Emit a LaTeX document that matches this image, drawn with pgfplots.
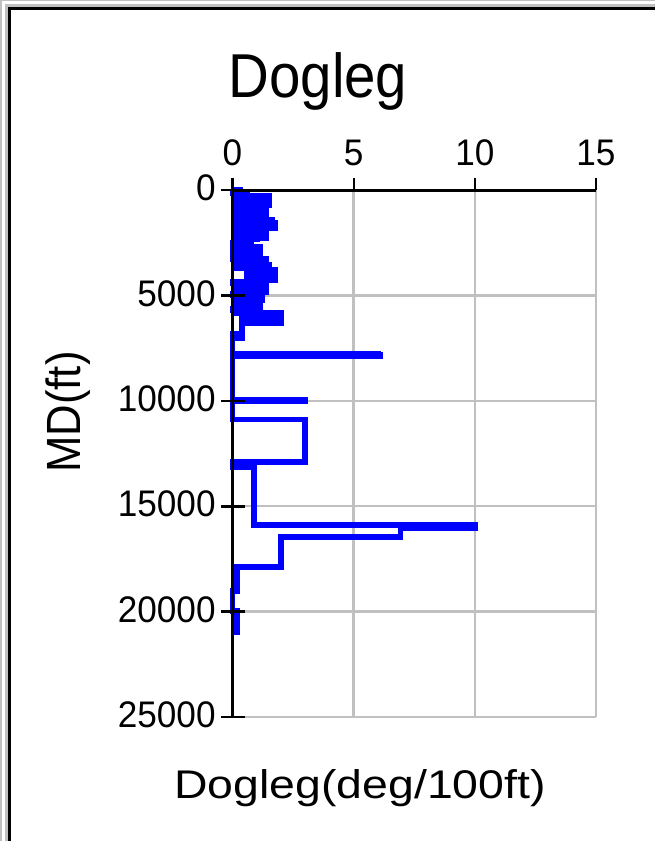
\documentclass[border=0pt]{standalone}
\usepackage{fontspec}
\usepackage{pgfplots}
\pgfplotsset{compat=1.18}
\setmainfont{Liberation Sans}
\newfontfamily\tickfont{Liberation Sans}[FakeStretch=0.95]
\newfontfamily\titlefont{Liberation Sans}[FakeStretch=0.91]
\newfontfamily\xlabfont{Liberation Sans}[FakeStretch=1.16]
\newfontfamily\ylabfont{Liberation Sans}[FakeStretch=0.91]
\definecolor{gridgray}{RGB}{192,192,192}
\definecolor{dlsblue}{RGB}{0,0,255}

\begin{document}
\begin{tikzpicture}
\useasboundingbox (0,0) rectangle (327.5pt,-420.5pt);

% window frame
\begin{scope}[x=0.5pt,y=-0.5pt]
  \fill[gridgray] (0,0) rectangle (1.5,841);
  \fill[gridgray] (0,0) rectangle (655,1);
  \fill[gridgray] (4.5,4) rectangle (7.5,841);
  \fill[gridgray] (4.5,4) rectangle (655,7);
  \fill[black] (7.5,7) rectangle (10.5,841);
  \fill[black] (7.5,7) rectangle (655,10);
\end{scope}

\begin{axis}[
  at={(116.25pt,-95pt)}, anchor=north west,
  scale only axis, width=181.75pt, height=263.5pt,
  xmin=0, xmax=15, ymin=0, ymax=25000,
  y dir=reverse,
  clip=false,
  axis line style={draw=none},
  major tick length=0pt,
  xtick={0,5,10,15},
  ytick={0,5000,10000,15000,20000,25000},
  grid=major,
  grid style={draw=gridgray, line width=1.2pt},
  scaled ticks=false,
  /pgf/number format/assume math mode=true,
  /pgf/number format/1000 sep={},
  xticklabel pos=upper,
  xticklabel style={font=\tickfont\fontsize{18.5}{20}\selectfont, anchor=south, inner sep=0pt, yshift=12pt},
  yticklabel style={font=\tickfont\fontsize{18.5}{20}\selectfont, anchor=east, inner sep=0pt, xshift=-8.25pt, yshift=1pt},
]
% dogleg severity per survey interval: (dogleg, MD where the value starts)
\addplot[dlsblue, line width=2.8pt, line join=miter, const plot mark right, mark=none] coordinates {
  (0,0) (0.30,0) (0.00,70) (0.62,140) (0.15,220)
  (1.53,290) (0.15,390) (1.53,480) (0.15,570) (1.53,640)
  (1.40,710) (0.15,800) (1.40,890) (0.15,980) (1.40,1060)
  (0.90,1140) (0.15,1210) (1.15,1280) (0.15,1350)
  (1.65,1420) (0.15,1500) (1.77,1570) (0.15,1660) (1.77,1750) (0.15,1800)
  (1.40,1850) (0.15,1950) (1.40,2050) (0.15,2150) (1.40,2220)
  (1.03,2280) (0.15,2350) (0.66,2420) (0.00,2490) (0.78,2560) (0.00,2630)
  (1.15,2700) (0.00,2800) (1.15,2900) (0.00,3000) (1.15,3070)
  (0.78,3130) (0.00,3200)
  (1.40,3270) (0.15,3370) (1.40,3460) (0.15,3510)
  (1.53,3560) (0.15,3650) (1.53,3730)
  (1.77,3800) (0.60,3900) (1.77,4000) (0.60,4100) (1.77,4190)
  (1.24,4270) (0.00,4340)
  (1.40,4410) (0.15,4500) (1.40,4600) (0.15,4700) (1.40,4780)
  (0.50,4840) (0.00,4910)
  (1.24,4980) (0.15,5070) (1.24,5160) (0.15,5250)
  (1.15,5320) (0.15,5410) (1.15,5490)
  (0.25,5550) (0.00,5620) (1.00,5700) (0.15,5770)
  (2.02,5840) (0.37,5940) (2.02,6040) (0.37,6140) (2.02,6240) (0.37,6330)
  (0.41,6410) (0.37,6500) (0.41,6600) (0.37,6680)
  (0.41,6740) (0.00,6830) (0.41,6920) (0.00,7020)
  (6.00,7760) (6.10,7830) (0.00,7900)
  (3.00,9940) (0.00,10040)
  (3.00,10890) (0.00,12910) (0.89,13170)
  (10.00,15880) (6.93,16040) (2.00,16450)
  (0.19,17880) (0.00,19010) (0.19,19980) (0.19,21120)
};
% axis lines and tick marks over the data
\draw[black, line width=1.5pt] (axis cs:0,0) -- (axis cs:15,0);
\draw[black, line width=1.2pt] (axis cs:0,0) -- (axis cs:0,25000);
\draw[black, line width=1.1pt] (axis cs:0,0) -- ++(0,6.2pt);
\draw[black, line width=1.1pt] (axis cs:5,0) -- ++(0,6.2pt);
\draw[black, line width=1.1pt] (axis cs:10,0) -- ++(0,6.2pt);
\draw[black, line width=1.1pt] (axis cs:15,0) -- ++(0,6.2pt);
\draw[black, line width=1.3pt] (axis cs:0,0) ++(-5.75pt,0) -- ++(12pt,0);
\draw[black, line width=1.3pt] (axis cs:0,5000) ++(-5.75pt,0) -- ++(12pt,0);
\draw[black, line width=1.3pt] (axis cs:0,10000) ++(-5.75pt,0) -- ++(12pt,0);
\draw[black, line width=1.3pt] (axis cs:0,15000) ++(-5.75pt,0) -- ++(12pt,0);
\draw[black, line width=1.3pt] (axis cs:0,20000) ++(-5.75pt,0) -- ++(12pt,0);
\draw[black, line width=1.3pt] (axis cs:0,25000) ++(-5.75pt,0) -- ++(12pt,0);
\end{axis}

% title and axis titles
\begin{scope}[x=0.5pt,y=-0.5pt]
  \node[anchor=base, inner sep=0pt, font=\titlefont\fontsize{31}{34}\selectfont] at (318,97) {Dogleg};
  \node[anchor=base, inner sep=0pt, font=\xlabfont\fontsize{20}{22}\selectfont] at (360,798) {Dogleg(deg/100ft)};
  \node[anchor=base, inner sep=0pt, rotate=90, font=\ylabfont\fontsize{24}{26}\selectfont] at (80,412) {MD(ft)};
\end{scope}
\end{tikzpicture}
\end{document}
